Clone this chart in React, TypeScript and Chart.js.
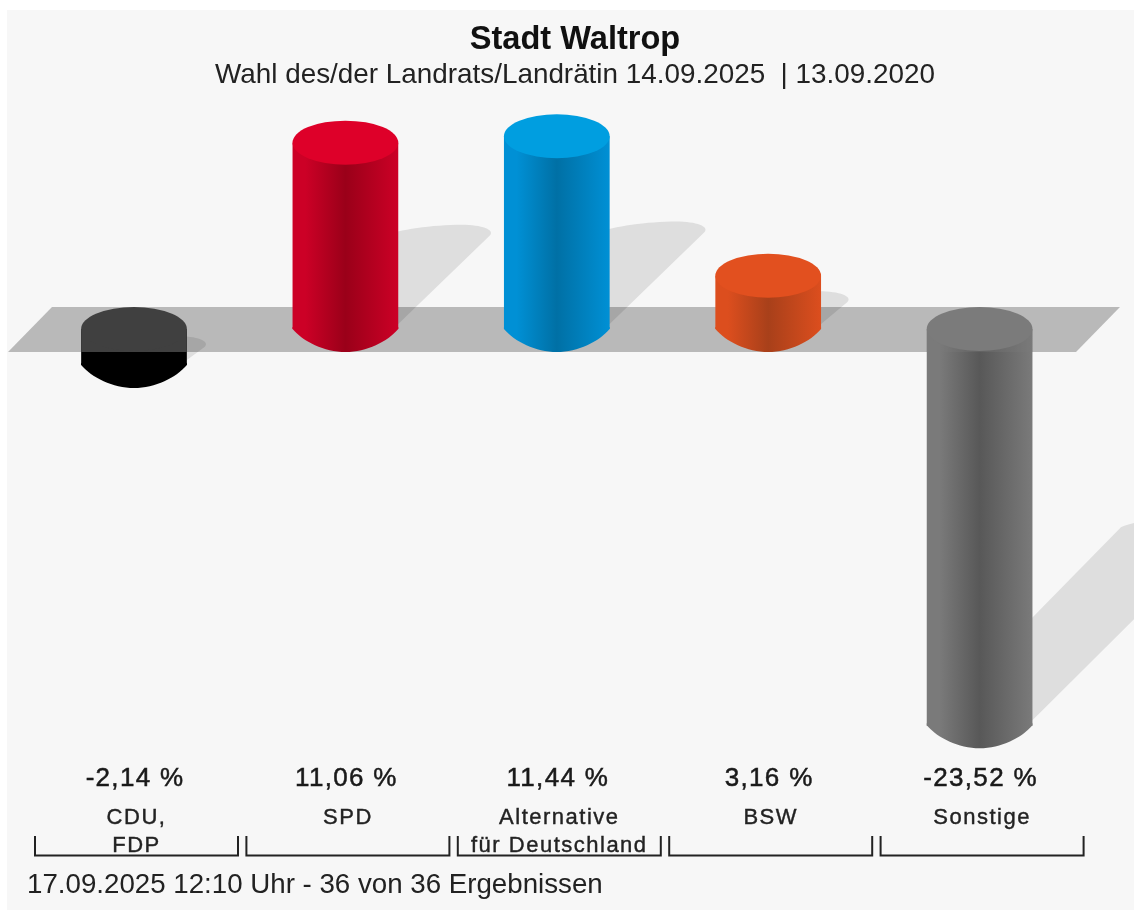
import React, { useEffect, useRef } from "react";
import { Chart, registerables } from "chart.js";

Chart.register(...registerables);

const categories: (string | string[])[] = [
  ["CDU,", "FDP"],
  "SPD",
  ["Alternative", "für Deutschland"],
  "BSW",
  "Sonstige",
];
const values = [-2.14, 11.06, 11.44, 3.16, -23.52];
const capColors = ["#404040", "#de0029", "#009ee0", "#e2501f", "#7b7b7b"];
const edgeColors = ["#000000", "#cc0026", "#0090d5", "#dc4e1e", "#7a7a7a"];
const darkColors = ["#000000", "#9a0019", "#0070a5", "#a8401a", "#585858"];
const bandAlphas = [1, 0, 0, 0, 0.3];
const chartTitle = "Stadt Waltrop";
const chartSubtitle = "Wahl des/der Landrats/Landrätin 14.09.2025  | 13.09.2020";
const footerText = "17.09.2025 12:10 Uhr - 36 von 36 Ergebnissen";

const FONT = '"Liberation Sans", Arial, sans-serif';
const RY = 22;

function bodyGradient(ctx: CanvasRenderingContext2D, x: number, w: number, i: number) {
  const g = ctx.createLinearGradient(x - w / 2, 0, x + w / 2, 0);
  g.addColorStop(0, edgeColors[i]);
  g.addColorStop(0.12, edgeColors[i]);
  g.addColorStop(0.5, darkColors[i]);
  g.addColorStop(1, edgeColors[i]);
  return g;
}

function bottomPath(ctx: CanvasRenderingContext2D, x: number, w: number, yc: number) {
  const hw = w / 2;
  const d = 23;
  ctx.beginPath();
  ctx.moveTo(x - hw, yc - 2);
  ctx.lineTo(x - hw, yc);
  ctx.bezierCurveTo(x - hw + 0.1 * w, yc + 0.55 * d, x - hw + 0.3 * w, yc + d, x, yc + d);
  ctx.bezierCurveTo(x + hw - 0.3 * w, yc + d, x + hw - 0.1 * w, yc + 0.55 * d, x + hw, yc);
  ctx.lineTo(x + hw, yc - 2);
  ctx.closePath();
}

const cylinderPlugin = {
  id: "cylinders",
  beforeDraw(chart: any) {
    const { ctx, width, height } = chart;
    ctx.save();
    ctx.fillStyle = "#f7f7f7";
    ctx.fillRect(7, 10, width - 7, height - 10);
    ctx.restore();
  },
  beforeDatasetsDraw(chart: any) {
    const { ctx } = chart;
    const y0 = chart.scales.y.getPixelForValue(0);
    const bars = chart.getDatasetMeta(0).data;
    ctx.save();
    bars.forEach((bar: any) => {
      const hw = bar.width / 2;
      const yv = bar.y;
      const yEnd = Math.max(yv, y0);
      const h = Math.abs(yv - y0);
      const dx = 0.49 * h;
      const yt = yEnd - 0.5 * h;
      const L = bar.x + dx - hw;
      const R = bar.x + dx + hw;
      const px = bar.x + dx + 25;
      ctx.beginPath();
      ctx.moveTo(bar.x - hw, yEnd);
      ctx.lineTo(L, yt);
      ctx.bezierCurveTo(L + 13.75, yt - 6, px - 29, yt - 11, px, yt - 11);
      ctx.bezierCurveTo(px + 20, yt - 11, R + 6, yt - 6, R, yt);
      ctx.lineTo(bar.x + hw, yEnd - 5);
      ctx.closePath();
      ctx.fillStyle = "#dedede";
      ctx.fill();
    });
    // floor plate
    const area = chart.chartArea;
    const front = y0 + 23;
    const back = y0 - 22;
    const l = area.left - 20.3;
    const r = area.right - 9.3;
    ctx.beginPath();
    ctx.moveTo(l, front);
    ctx.lineTo(l + 44, back);
    ctx.lineTo(r + 44, back);
    ctx.lineTo(r, front);
    ctx.closePath();
    ctx.fillStyle = "rgba(0,0,0,0.25)";
    ctx.fill();
    ctx.restore();
  },
  afterDatasetsDraw(chart: any) {
    const { ctx } = chart;
    const y0 = chart.scales.y.getPixelForValue(0);
    const bars = chart.getDatasetMeta(0).data;
    ctx.save();
    bars.forEach((bar: any, i: number) => {
      const w = bar.width;
      const yEnd = Math.max(bar.y, y0);
      bottomPath(ctx, bar.x, w, yEnd);
      ctx.fillStyle = bodyGradient(ctx, bar.x, w, i);
      ctx.fill();
      if (bandAlphas[i] > 0) {
        ctx.globalAlpha = bandAlphas[i];
        ctx.fillStyle = capColors[i];
        ctx.fillRect(bar.x - w / 2, y0, w, 23);
        ctx.globalAlpha = 1;
      }
      ctx.beginPath();
      ctx.ellipse(bar.x, Math.min(bar.y, y0), w / 2, RY, 0, 0, 2 * Math.PI);
      ctx.fillStyle = capColors[i];
      ctx.fill();
    });
    ctx.restore();
    (ctx as any).letterSpacing = "1.5px";
  },
  afterDraw(chart: any) {
    const { ctx } = chart;
    const bars = chart.getDatasetMeta(0).data;
    ctx.save();
    ctx.textAlign = "center";
    ctx.textBaseline = "middle";
    ctx.fillStyle = "#1a1a1a";
    ctx.strokeStyle = "#1a1a1a";
    ctx.font = `26px ${FONT}`;
    (ctx as any).letterSpacing = "1.3px";
    ctx.lineWidth = 0.5;
    bars.forEach((bar: any, i: number) => {
      const t = values[i].toFixed(2).replace(".", ",") + " %";
      ctx.fillText(t, bar.x + 1, 779);
      ctx.strokeText(t, bar.x + 1, 779);
    });
    (ctx as any).letterSpacing = "0px";
    ctx.lineWidth = 2;
    ctx.strokeStyle = "#222222";
    bars.forEach((bar: any) => {
      ctx.beginPath();
      ctx.moveTo(bar.x - 99, 836);
      ctx.lineTo(bar.x - 99, 855.5);
      ctx.lineTo(bar.x + 104, 855.5);
      ctx.lineTo(bar.x + 104, 836);
      ctx.stroke();
    });
    ctx.textAlign = "left";
    ctx.fillStyle = "#222222";
    ctx.font = `27.7px ${FONT}`;
    ctx.fillText(footerText, 27, 885);
    ctx.restore();
  },
};

export default function App() {
  const ref = useRef<HTMLCanvasElement>(null);
  useEffect(() => {
    const canvas = ref.current!;
    const chart = new Chart(canvas, {
      type: "bar",
      data: {
        labels: categories as any,
        datasets: [
          {
            data: values,
            backgroundColor: (c: any) => {
              const area = c.chart.chartArea;
              const xs = c.chart.scales.x;
              if (!area || !xs) return edgeColors[c.dataIndex];
              const w = (area.width / values.length) * 0.5;
              return bodyGradient(c.chart.ctx, xs.getPixelForTick(c.dataIndex), w, c.dataIndex);
            },
            borderWidth: 0,
            barPercentage: 0.5,
            categoryPercentage: 1,
          },
        ],
      },
      options: {
        responsive: false,
        animation: false,
        layout: { padding: { left: 28.3, right: 12.3, top: 0, bottom: 0 } },
        plugins: {
          legend: { display: false },
          tooltip: { enabled: false },
          title: {
            display: true,
            text: chartTitle,
            color: "#111111",
            font: { family: FONT, size: 32.6, weight: "bold", lineHeight: 1.2 },
            padding: { top: 20.5, bottom: 0 },
          },
          subtitle: {
            display: true,
            text: chartSubtitle,
            color: "#222222",
            font: { family: FONT, size: 27.85, weight: "normal", lineHeight: 1.1 },
            padding: { top: 0, bottom: 2.84 },
          },
        },
        scales: {
          x: {
            grid: { display: false, drawTicks: false },
            border: { display: false },
            afterFit: (s: any) => {
              s.height = 109.2;
            },
            ticks: {
              z: 1,
              autoSkip: false,
              maxRotation: 0,
              minRotation: 0,
              padding: 3,
              labelOffset: 2.5,
              color: "#222222",
              textStrokeColor: "#222222",
              textStrokeWidth: 0.4,
              font: { family: FONT, size: 22, lineHeight: 1.27 },
            },
          },
          y: {
            position: "right",
            min: -28,
            max: 14,
            grid: { display: false },
            border: { display: false },
            ticks: { display: false },
            afterFit: (s: any) => {
              s.width = 36.4;
            },
          },
        },
      },
      plugins: [cylinderPlugin],
    } as any);
    return () => chart.destroy();
  }, []);
  return (
    <canvas
      ref={ref}
      width={1134}
      height={910}
      style={{ position: "absolute", left: 0, top: 0, display: "block" }}
    />
  );
}
